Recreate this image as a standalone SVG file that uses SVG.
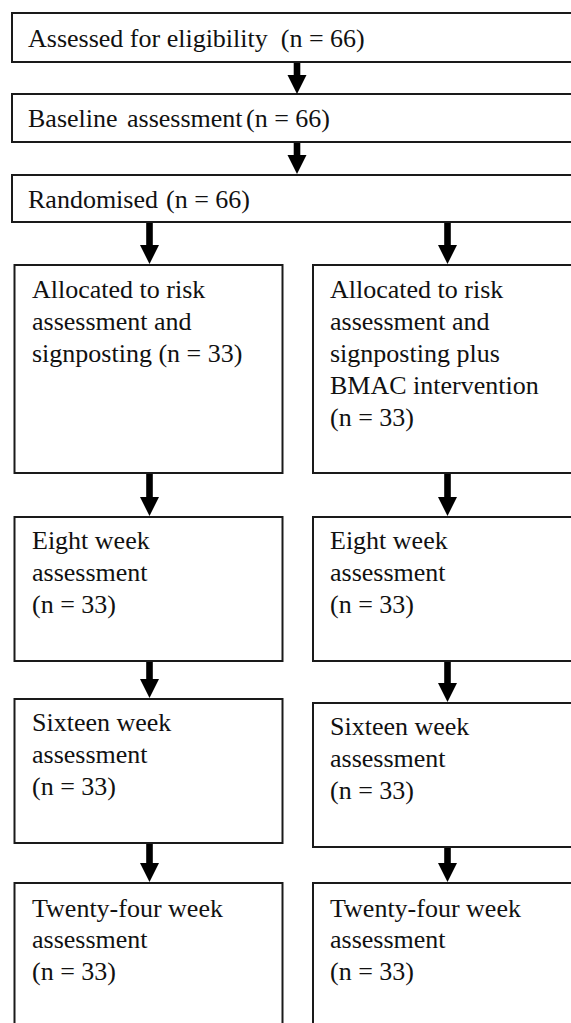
<svg xmlns="http://www.w3.org/2000/svg" width="571" height="1023" viewBox="0 0 571 1023">
<style>
.box{fill:#fff;stroke:#1a1a1a;stroke-width:2}
.t{font-family:"Liberation Serif","Times New Roman",serif;font-size:26px;fill:#111}
.arr{fill:#000}
</style>
<defs>
<g id="arrowhead"><polygon points="-9.5,0 9.5,0 0,19"/></g>
</defs>
<rect width="571" height="1023" fill="#fff"/>
<g id="n1"><rect class="box" x="12" y="13" width="580" height="49"/><text class="t" x="28" y="47" xml:space="preserve">Assessed for eligibility  (n = 66)</text></g>
<g id="n2"><rect class="box" x="12" y="94" width="580" height="48"/><text class="t" y="127"><tspan x="28">Baseline</tspan><tspan x="127">assessment</tspan><tspan x="246">(n = 66)</tspan></text></g>
<g id="n3"><rect class="box" x="12" y="175" width="580" height="47"/><text class="t" y="208"><tspan x="28">Randomised</tspan><tspan x="166">(n = 66)</tspan></text></g>
<g id="l1"><rect class="box" x="14.5" y="265" width="268" height="208"/><text class="t"><tspan x="32" y="298">Allocated to risk</tspan><tspan x="32" y="330">assessment and</tspan><tspan x="32" y="362">signposting (n = 33)</tspan></text></g>
<g id="r1"><rect class="box" x="313" y="265" width="280" height="208"/><text class="t"><tspan x="330" y="298">Allocated to risk</tspan><tspan x="330" y="330">assessment and</tspan><tspan x="330" y="362">signposting plus</tspan><tspan x="330" y="394">BMAC intervention</tspan><tspan x="330" y="426">(n = 33)</tspan></text></g>
<g id="l2"><rect class="box" x="14.5" y="517" width="268" height="144"/><text class="t"><tspan x="32" y="549">Eight week</tspan><tspan x="32" y="581">assessment</tspan><tspan x="32" y="613">(n = 33)</tspan></text></g>
<g id="r2"><rect class="box" x="313" y="517" width="280" height="144"/><text class="t"><tspan x="330" y="549">Eight week</tspan><tspan x="330" y="581">assessment</tspan><tspan x="330" y="613">(n = 33)</tspan></text></g>
<g id="l3"><rect class="box" x="14.5" y="699" width="268" height="144"/><text class="t"><tspan x="32" y="731">Sixteen week</tspan><tspan x="32" y="763">assessment</tspan><tspan x="32" y="795">(n = 33)</tspan></text></g>
<g id="r3"><rect class="box" x="313" y="703" width="280" height="144"/><text class="t"><tspan x="330" y="735">Sixteen week</tspan><tspan x="330" y="767">assessment</tspan><tspan x="330" y="799">(n = 33)</tspan></text></g>
<g id="l4"><rect class="box" x="14.5" y="883" width="268" height="160"/><text class="t"><tspan x="32" y="917">Twenty-four week</tspan><tspan x="32" y="948">assessment</tspan><tspan x="32" y="980">(n = 33)</tspan></text></g>
<g id="r4"><rect class="box" x="313" y="883" width="280" height="160"/><text class="t"><tspan x="330" y="917">Twenty-four week</tspan><tspan x="330" y="948">assessment</tspan><tspan x="330" y="980">(n = 33)</tspan></text></g>
<g id="connectors" class="arr">
<rect x="293.7" y="63" width="6.6" height="14"/><use href="#arrowhead" x="297" y="75"/>
<rect x="293.7" y="143" width="6.6" height="14"/><use href="#arrowhead" x="297" y="155"/>
<rect x="146.2" y="223" width="6.6" height="23"/><use href="#arrowhead" x="149.5" y="245"/>
<rect x="444.2" y="223" width="6.6" height="23"/><use href="#arrowhead" x="447.5" y="245"/>
<rect x="146.2" y="474" width="6.6" height="24"/><use href="#arrowhead" x="149.5" y="497"/>
<rect x="444.2" y="474" width="6.6" height="24"/><use href="#arrowhead" x="447.5" y="497"/>
<rect x="146.2" y="662" width="6.6" height="19"/><use href="#arrowhead" x="149.5" y="679"/>
<rect x="444.2" y="662" width="6.6" height="23"/><use href="#arrowhead" x="447.5" y="683"/>
<rect x="146.2" y="844" width="6.6" height="21"/><use href="#arrowhead" x="149.5" y="863"/>
<rect x="444.2" y="848" width="6.6" height="17"/><use href="#arrowhead" x="447.5" y="863"/>
</g>
</svg>
